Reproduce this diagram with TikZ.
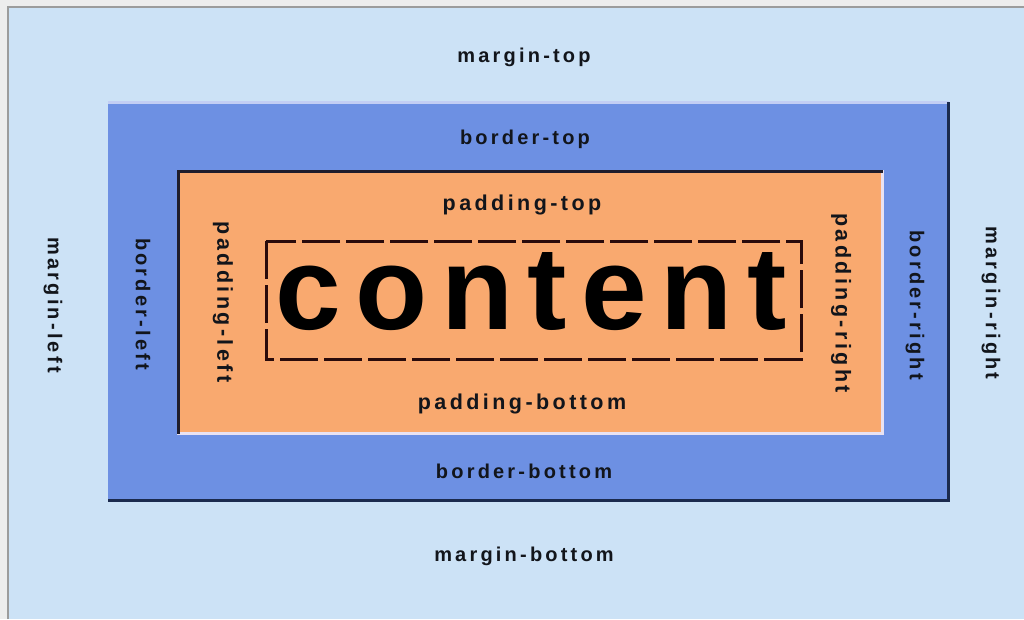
\documentclass[tikz,border=0pt]{standalone}
\usepackage{fontspec}
\setmainfont{Liberation Sans}
\newfontfamily\cssfont[LetterSpace=16]{Liberation Sans}
\newfontfamily\cssbigfont[LetterSpace=12]{Liberation Sans}
\definecolor{cssPage}{HTML}{EDEDED}
\definecolor{cssFrame}{HTML}{9C9C9C}
\definecolor{cssMargin}{HTML}{CCE2F6}
\definecolor{cssBorder}{HTML}{6D90E3}
\definecolor{cssBorderEdge}{HTML}{1B2A4E}
\definecolor{cssBorderLight}{HTML}{C3CEF4}
\definecolor{cssPadding}{HTML}{F9A96F}
\definecolor{cssPaddingEdge}{HTML}{1F1D2C}
\definecolor{cssPaddingLight}{HTML}{E9E2F2}
\definecolor{cssDash}{HTML}{2A0B0B}
\definecolor{cssInk}{HTML}{12151B}
\tikzset{
  every picture/.style={text=cssInk},
  css label/.style={font=\cssfont\bfseries\fontsize{20}{24}\selectfont, inner sep=0pt},
  css pad label/.style={inner sep=0pt, font=\cssfont\bfseries\fontsize{21.5}{25}\selectfont},
  css side/.style={rotate=-90},
  css edge/.style={line width=3pt, line cap=butt},
  css dash/.style={draw=cssDash, line width=3pt, dash pattern=on 38pt off 6pt},
  css content/.style={font=\cssbigfont\bfseries\fontsize{118}{124}\selectfont,
    text=black, inner sep=0pt, anchor=base}
}

\begin{document}
\begin{tikzpicture}[x=1pt,y=-1pt]
  \useasboundingbox (0,0) rectangle (1024,619);
  \fill[cssPage] (0,0) rectangle (1024,619);
  % margin
  \fill[cssMargin] (8,7) rectangle (1024,619);
  \draw[cssFrame, line width=2pt] (8,619) -- (8,7) -- (1024,7);
  % border
  \fill[cssBorder] (108,102) rectangle (949,501);
  \draw[cssBorderLight, css edge] (108,102) -- (949,102);
  \draw[cssBorderEdge, css edge] (948,102) -- (948,500) -- (108,500);
  % padding
  \fill[cssPadding] (177,170) rectangle (883,434);
  \draw[cssPaddingLight, css edge] (882,170) -- (882,433) -- (177,433);
  \draw[cssPaddingEdge, css edge] (178,434) -- (178,171) -- (883,171);
  % content
  \draw[css dash] (266,241) rectangle (801,359);
  \node[css content] (content) at (531,329) {content};

  \node[css label] (mtop) at (524,57) {margin-top};
  \node[css label] (btop) at (525,139) {border-top};
  \node[css pad label] (ptop) at (522,205) {padding-top};
  \node[css pad label] (pbottom) at (522,404) {padding-bottom};
  \node[css label] (bbottom) at (524,471) {border-bottom};
  \node[css label] (mbottom) at (524,556) {margin-bottom};

  \node[css label, css side] (mleft) at (53,305) {margin-left};
  \node[css label, css side] (bleft) at (143,304) {border-left};
  \node[css pad label, css side] (pleft) at (223,302) {padding-left};
  \node[css pad label, css side] (pright) at (841,303) {padding-right};
  \node[css label, css side] (bright) at (915,305) {border-right};
  \node[css label, css side] (mright) at (991,303) {margin-right};
\end{tikzpicture}
\end{document}
